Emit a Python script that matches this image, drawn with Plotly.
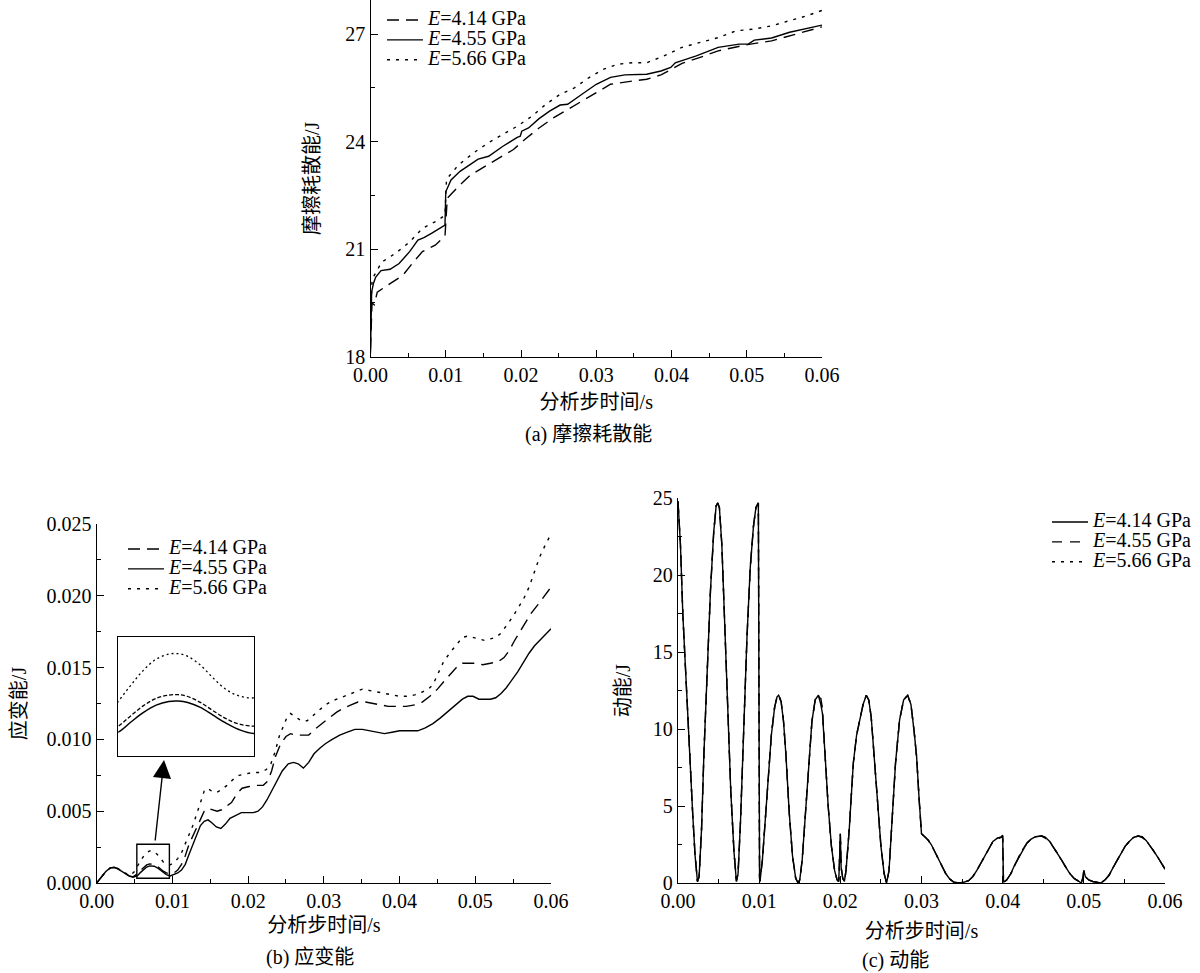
import plotly.graph_objects as go

W, H = 1200, 973
FONT = "Liberation Serif, Noto Sans CJK SC, serif"

# ---------------- (a) friction dissipation energy ----------------
fa_x_414 = [0.0, 0.0002, 0.0005, 0.0009, 0.0026, 0.0043, 0.0057, 0.0069, 0.0086, 0.0099, 0.0102,
            0.0117, 0.0133, 0.0152, 0.0171, 0.019, 0.0205, 0.0224, 0.0243, 0.0262, 0.0281, 0.03,
            0.0319, 0.0348, 0.0367, 0.0386, 0.04, 0.0414, 0.0438, 0.0462, 0.0486, 0.0505, 0.0533,
            0.0557, 0.058, 0.06]
fa_y_414 = [18.2, 19.5, 19.45, 19.8, 20.04, 20.27, 20.64, 20.93, 21.11, 21.37, 22.42,
            22.75, 23.07, 23.3, 23.54, 23.78, 24.06, 24.38, 24.66, 24.9, 25.13, 25.36,
            25.6, 25.69, 25.74, 25.86, 26.02, 26.18, 26.35, 26.53, 26.64, 26.72, 26.81,
            26.95, 27.1, 27.2]

fa_x_455 = [0.0, 0.00015, 0.0004, 0.0007, 0.0014, 0.0026, 0.0038, 0.0052, 0.0063, 0.0071, 0.0081,
            0.0094, 0.0099, 0.0100, 0.0107, 0.0119, 0.0133, 0.0143, 0.0157, 0.0176, 0.0195, 0.0199,
            0.0201, 0.021, 0.0224, 0.0238, 0.0252, 0.0262, 0.0281, 0.03, 0.0319, 0.0338, 0.0367,
            0.0386, 0.0399, 0.0405, 0.0433, 0.0462, 0.049, 0.0502, 0.051, 0.0533, 0.0557, 0.0581, 0.06]
fa_y_455 = [18.1, 19.8, 20.05, 20.22, 20.4, 20.44, 20.6, 20.93, 21.25, 21.32, 21.44,
            21.6, 21.67, 22.6, 22.93, 23.17, 23.38, 23.51, 23.59, 23.87, 24.12, 24.15,
            24.29, 24.38, 24.64, 24.85, 25.02, 25.04, 25.32, 25.6, 25.79, 25.86, 25.88,
            25.97, 26.07, 26.2, 26.39, 26.63, 26.72, 26.72, 26.83, 26.89, 27.05, 27.17, 27.25]

fa_x_566 = [0.0, 0.0002, 0.0005, 0.0015, 0.0033, 0.0052, 0.0069, 0.009, 0.0099, 0.0101, 0.0117,
            0.0138, 0.0157, 0.0176, 0.0195, 0.0214, 0.0233, 0.0252, 0.0271, 0.029, 0.031, 0.0329,
            0.0348, 0.0367, 0.039, 0.0414, 0.0438, 0.0462, 0.0486, 0.051, 0.0533, 0.0557, 0.058, 0.06]
fa_y_566 = [19.0, 20.1, 20.27, 20.64, 20.88, 21.2, 21.58, 21.81, 21.95, 22.95, 23.35,
            23.7, 23.97, 24.2, 24.43, 24.7, 25.04, 25.32, 25.5, 25.78, 26.02, 26.16,
            26.2, 26.2, 26.39, 26.63, 26.77, 26.9, 27.09, 27.14, 27.23, 27.37, 27.51, 27.66]

# ---------------- (b) strain energy ----------------
sb_x_414 = [0.0, 0.0006, 0.0012, 0.0018, 0.0023, 0.0028, 0.0033, 0.0038, 0.0043, 0.0048, 0.0054,
            0.0058, 0.0062, 0.0066, 0.0070, 0.0073, 0.0076, 0.0080, 0.0084, 0.0088, 0.0092, 0.0097,
            0.0102, 0.0107, 0.0112, 0.0117, 0.0122, 0.0127, 0.0132, 0.0137, 0.0142, 0.0147, 0.0153,
            0.0159, 0.0165, 0.0172, 0.0178, 0.0185, 0.0192, 0.0200, 0.0210, 0.0220, 0.0226, 0.0231,
            0.0236, 0.0243, 0.0250, 0.0256, 0.0262, 0.0270, 0.0280, 0.0288, 0.0297, 0.0307, 0.0317,
            0.0327, 0.0336, 0.0345, 0.0355, 0.0365, 0.0375, 0.0385, 0.0395, 0.0409, 0.0420, 0.0430,
            0.0440, 0.0450, 0.0458, 0.0466, 0.0475, 0.0483, 0.0490, 0.0500, 0.0510, 0.0520, 0.0530,
            0.0538, 0.0545, 0.0551, 0.0559, 0.0566, 0.0574, 0.0583, 0.0592, 0.0600]
sb_y_414 = [0.0, 0.0004, 0.0008, 0.00105, 0.0011, 0.001, 0.00085, 0.00066, 0.0005, 0.00043, 0.00065,
            0.00088, 0.0011, 0.00126, 0.00133, 0.00134, 0.0013, 0.00117, 0.00099, 0.00082, 0.0007, 0.00065,
            0.0007, 0.0009, 0.0013, 0.0019, 0.0027, 0.0033, 0.0039, 0.0045, 0.0050, 0.0052, 0.0051,
            0.0050, 0.0051, 0.0054, 0.0056, 0.0062, 0.0066, 0.0067, 0.0068, 0.0068, 0.0071, 0.0078,
            0.0088, 0.0097, 0.0102, 0.0104, 0.0103, 0.0103, 0.0103, 0.0107, 0.0111, 0.0115, 0.0119,
            0.0122, 0.0124, 0.0126, 0.0126, 0.0125, 0.0124, 0.0123, 0.0123, 0.0123, 0.0124, 0.0126,
            0.0130, 0.0135, 0.0140, 0.0145, 0.0150, 0.0153, 0.0153, 0.0153, 0.0152, 0.0153, 0.0154,
            0.0157, 0.0162, 0.0168, 0.0175, 0.0182, 0.0188, 0.0194, 0.0200, 0.0206]

sb_x_455 = [0.0, 0.0006, 0.0012, 0.0018, 0.0023, 0.0028, 0.0033, 0.0038, 0.0043, 0.0048, 0.0054,
            0.0058, 0.0062, 0.0066, 0.0070, 0.0073, 0.0076, 0.0080, 0.0084, 0.0088, 0.0092, 0.0097,
            0.0102, 0.0107, 0.0112, 0.0117, 0.0122, 0.0127, 0.0132, 0.0137, 0.0142, 0.0147, 0.0152,
            0.0158, 0.0164, 0.0170, 0.0176, 0.0183, 0.0191, 0.0199, 0.0207, 0.0213, 0.0219, 0.0225,
            0.0231, 0.0238, 0.0245, 0.0253, 0.0260, 0.0266, 0.0273, 0.0280, 0.0287, 0.0295, 0.0302,
            0.0311, 0.0321, 0.0331, 0.0341, 0.0351, 0.0361, 0.0371, 0.0380, 0.0390, 0.0400, 0.0412,
            0.0424, 0.0434, 0.0444, 0.0454, 0.0463, 0.0473, 0.0483, 0.0490, 0.0497, 0.0505, 0.0512,
            0.0520, 0.0527, 0.0534, 0.0541, 0.0548, 0.0556, 0.0564, 0.0571, 0.0578, 0.0585, 0.0592, 0.0600]
sb_y_455 = [0.0, 0.0004, 0.0008, 0.00105, 0.00108, 0.00098, 0.00082, 0.00064, 0.00048, 0.0004, 0.00052,
            0.00074, 0.00095, 0.00111, 0.00119, 0.0012, 0.00117, 0.00106, 0.00089, 0.00072, 0.00058, 0.00049,
            0.0006, 0.0007, 0.0009, 0.0013, 0.0020, 0.0027, 0.0034, 0.0040, 0.0043, 0.0044, 0.0042,
            0.0039, 0.0038, 0.0041, 0.0045, 0.0047, 0.0049, 0.0049, 0.0049, 0.0050, 0.0053, 0.0058,
            0.0064, 0.0071, 0.0078, 0.0083, 0.0084, 0.0083, 0.0080, 0.0084, 0.0090, 0.0094, 0.0097,
            0.0100, 0.0103, 0.0105, 0.0107, 0.0107, 0.0106, 0.0105, 0.0104, 0.0105, 0.0106, 0.0106,
            0.0106, 0.0108, 0.0111, 0.0115, 0.0119, 0.0124, 0.0128, 0.0130, 0.0130, 0.0128, 0.0128,
            0.0128, 0.0129, 0.0132, 0.0136, 0.0141, 0.0147, 0.0154, 0.0160, 0.0165, 0.0169, 0.0173, 0.0177]

sb_x_566 = [0.0, 0.0006, 0.0012, 0.0018, 0.0023, 0.0028, 0.0033, 0.0038, 0.0045, 0.0050, 0.0054,
            0.0058, 0.0062, 0.0066, 0.0070, 0.0073, 0.0076, 0.0080, 0.0084, 0.0088, 0.0092, 0.0097,
            0.0102, 0.0107, 0.0112, 0.0117, 0.0122, 0.0127, 0.0132, 0.0137, 0.0142, 0.0146, 0.0152,
            0.0158, 0.0165, 0.0172, 0.0180, 0.0188, 0.0196, 0.0206, 0.0216, 0.0224, 0.0230, 0.0236,
            0.0241, 0.0246, 0.0251, 0.0256, 0.0262, 0.0270, 0.0278, 0.0285, 0.0293, 0.0302, 0.0312,
            0.0322, 0.0331, 0.0341, 0.0351, 0.0361, 0.0370, 0.0380, 0.0390, 0.0400, 0.0409, 0.0420,
            0.0430, 0.0438, 0.0444, 0.0451, 0.0458, 0.0466, 0.0475, 0.0483, 0.0490, 0.0497, 0.0505,
            0.0512, 0.0520, 0.0527, 0.0534, 0.0541, 0.0549, 0.0556, 0.0564, 0.0571, 0.0578, 0.0585,
            0.0593, 0.0600]
sb_y_566 = [0.0, 0.0004, 0.0008, 0.00105, 0.0011, 0.001, 0.00085, 0.00068, 0.00055, 0.0008, 0.00119,
            0.00155, 0.00188, 0.00212, 0.00223, 0.00224, 0.00218, 0.00199, 0.00171, 0.00146, 0.00132, 0.00127,
            0.0014, 0.0017, 0.0021, 0.0027, 0.0033, 0.0040, 0.0048, 0.0056, 0.0064, 0.0066, 0.0064,
            0.0063, 0.0065, 0.0068, 0.0072, 0.0075, 0.0076, 0.0077, 0.0077, 0.0079, 0.0083, 0.0092,
            0.0102, 0.0109, 0.0115, 0.0118, 0.0116, 0.0113, 0.0113, 0.0116, 0.0120, 0.0124, 0.0127,
            0.0129, 0.0131, 0.0133, 0.0135, 0.0134, 0.0133, 0.0132, 0.0131, 0.0130, 0.0130, 0.0131,
            0.0133, 0.0135, 0.0138, 0.0146, 0.0154, 0.0160, 0.0166, 0.0171, 0.0172, 0.0171, 0.0170,
            0.0169, 0.0170, 0.0171, 0.0174, 0.0179, 0.0185, 0.0191, 0.0198, 0.0206, 0.0216, 0.0227,
            0.0236, 0.0243]

# ---------------- (c) kinetic energy ----------------
ke_x = [0.0, 0.0003, 0.0006, 0.0010, 0.0014, 0.0018, 0.0021, 0.0024, 0.0026, 0.0029, 0.0032,
        0.0036, 0.0040, 0.0044, 0.0047, 0.0049, 0.0051, 0.0054, 0.0057, 0.0061, 0.0065, 0.0069,
        0.0072, 0.0074, 0.0077, 0.0081, 0.0085, 0.0089, 0.0093, 0.0096, 0.0099, 0.01005, 0.0101,
        0.0104, 0.0107, 0.0111, 0.0115, 0.0119, 0.0122, 0.0124, 0.0127, 0.0130, 0.0133, 0.0137,
        0.0141, 0.0145, 0.0148, 0.0150, 0.0153, 0.0157, 0.0161, 0.0165, 0.0169, 0.0173, 0.0176,
        0.0178, 0.0181, 0.0185, 0.0189, 0.0193, 0.0196, 0.0198, 0.0199, 0.0200, 0.0201, 0.0203,
        0.0205, 0.0207, 0.0211, 0.0216, 0.0220, 0.0224, 0.0228, 0.0232, 0.0235, 0.0238, 0.0242,
        0.0246, 0.0250, 0.0254, 0.0257, 0.0260, 0.0264, 0.0268, 0.0273, 0.0278, 0.0283, 0.0287,
        0.0291, 0.0294, 0.0297, 0.0299, 0.0300, 0.0304, 0.0308, 0.0312, 0.0316, 0.0320, 0.0325,
        0.0330, 0.0335, 0.0340, 0.0346, 0.0352, 0.0358, 0.0363, 0.0368, 0.0373, 0.0378, 0.0383,
        0.0388, 0.0393, 0.0398, 0.0400, 0.0401, 0.0405, 0.0410, 0.0415, 0.0420, 0.0425, 0.0430,
        0.0435, 0.0440, 0.0448, 0.0453, 0.0458, 0.0463, 0.0468, 0.0473, 0.0478, 0.0483, 0.0488,
        0.0493, 0.0497, 0.0499, 0.0500, 0.0502, 0.0506, 0.0511, 0.0516, 0.0521, 0.0526, 0.0531,
        0.0536, 0.0541, 0.0546, 0.0551, 0.0556, 0.0561, 0.0567, 0.0572, 0.0577, 0.0582, 0.0587,
        0.0592, 0.0596, 0.0600]
ke_414 = [24.8, 22.0, 17.4, 12.8, 8.9, 4.6, 1.8, 0.1, 0.4, 3.5, 8.5,
          14.0, 19.0, 22.8, 24.5, 24.7, 24.4, 22.0, 17.5, 11.5, 6.0, 2.0,
          0.1, 0.6, 4.0, 10.0, 16.0, 20.5, 23.2, 24.4, 24.7, 0.3, 0.1,
          1.5, 3.8, 6.8, 9.6, 11.4, 12.1, 12.2, 11.8, 10.5, 8.3, 4.6,
          1.8, 0.3, 0.0, 0.2, 1.5, 4.5, 7.8, 10.5, 11.9, 12.2, 11.6,
          11.0, 8.5, 5.0, 2.4, 0.8, 0.2, 0.1, 1.5, 3.2, 1.0, 0.3,
          0.1, 0.8, 3.5, 7.8, 9.6, 10.5, 11.6, 12.2, 11.9, 10.8, 8.2,
          5.0, 2.4, 0.6, 0.0, 0.8, 4.6, 7.8, 10.6, 11.9, 12.2, 11.6,
          9.8, 8.2, 5.5, 3.6, 3.2, 3.0, 2.8, 2.5, 2.1, 1.6, 1.1,
          0.6, 0.25, 0.05, 0.0, 0.05, 0.15, 0.4, 0.8, 1.3, 1.8, 2.3,
          2.7, 2.9, 3.0, 3.1, 0.05, 0.2, 0.6, 1.2, 1.7, 2.2, 2.6,
          2.85, 3.0, 3.07, 2.95, 2.7, 2.3, 1.9, 1.45, 1.0, 0.6, 0.3,
          0.1, 0.0, 0.4, 0.8, 0.4, 0.2, 0.1, 0.05, 0.0, 0.2, 0.5,
          1.0, 1.5, 2.0, 2.4, 2.7, 2.95, 3.07, 3.0, 2.75, 2.4, 2.0,
          1.6, 1.25, 0.9]
ke_455 = [24.8, 22.0, 17.4, 12.8, 8.9, 4.6, 1.8, 0.1, 0.4, 3.5, 8.5,
          14.0, 19.0, 22.8, 24.5, 24.7, 24.4, 22.0, 17.5, 11.5, 6.0, 2.0,
          0.1, 0.6, 4.0, 10.0, 16.0, 20.5, 23.2, 24.4, 24.7, 0.3, 0.1,
          1.5, 3.8, 6.8, 9.6, 11.4, 12.1, 12.2, 11.8, 10.5, 8.3, 4.6,
          1.8, 0.3, 0.0, 0.2, 1.5, 4.5, 7.8, 10.5, 11.9, 12.1, 12.0,
          11.3, 8.5, 5.0, 2.4, 0.8, 0.2, 0.1, 1.5, 3.2, 1.0, 0.3,
          0.1, 0.8, 3.5, 7.8, 9.6, 10.5, 11.6, 12.2, 11.9, 10.8, 8.2,
          5.0, 2.4, 0.6, 0.0, 0.8, 4.6, 7.8, 10.6, 11.9, 12.2, 11.6,
          9.8, 8.2, 5.5, 3.6, 3.2, 3.0, 2.8, 2.5, 2.1, 1.6, 1.1,
          0.6, 0.25, 0.05, 0.0, 0.05, 0.15, 0.4, 0.8, 1.3, 1.8, 2.3,
          2.7, 2.85, 2.95, 3.0, 0.05, 0.2, 0.6, 1.2, 1.7, 2.2, 2.6,
          2.85, 3.0, 3.05, 2.9, 2.65, 2.3, 1.9, 1.45, 1.0, 0.6, 0.3,
          0.1, 0.0, 0.4, 0.8, 0.4, 0.2, 0.1, 0.05, 0.0, 0.2, 0.5,
          1.0, 1.5, 2.0, 2.4, 2.7, 2.95, 3.05, 2.95, 2.75, 2.4, 2.0,
          1.6, 1.25, 0.9]
ke_566 = [24.8, 22.0, 17.4, 12.8, 8.9, 4.6, 1.8, 0.1, 0.4, 3.5, 8.5,
          14.0, 19.0, 22.8, 24.5, 24.7, 24.4, 22.0, 17.5, 11.5, 6.0, 2.0,
          0.1, 0.6, 4.0, 10.0, 16.0, 20.5, 23.2, 24.4, 24.7, 0.3, 0.1,
          1.5, 3.8, 6.8, 9.6, 11.4, 12.1, 12.2, 11.8, 10.5, 8.3, 4.6,
          1.8, 0.3, 0.0, 0.2, 1.5, 4.5, 7.8, 10.5, 11.9, 12.2, 11.8,
          11.1, 8.5, 5.0, 2.4, 0.8, 0.2, 0.1, 1.5, 3.2, 1.0, 0.3,
          0.1, 0.8, 3.5, 7.8, 9.6, 10.5, 11.6, 12.2, 11.9, 10.8, 8.2,
          5.0, 2.4, 0.6, 0.0, 0.8, 4.6, 7.8, 10.6, 11.9, 12.2, 11.6,
          9.8, 8.2, 5.5, 3.6, 3.2, 3.0, 2.8, 2.5, 2.1, 1.6, 1.1,
          0.6, 0.25, 0.05, 0.0, 0.05, 0.15, 0.4, 0.8, 1.3, 1.8, 2.3,
          2.7, 2.9, 3.0, 3.05, 0.05, 0.2, 0.6, 1.2, 1.7, 2.2, 2.6,
          2.85, 3.0, 3.07, 2.95, 2.7, 2.3, 1.9, 1.45, 1.0, 0.6, 0.3,
          0.1, 0.0, 0.4, 0.8, 0.4, 0.2, 0.1, 0.05, 0.0, 0.2, 0.5,
          1.0, 1.5, 2.0, 2.4, 2.7, 2.95, 3.07, 3.0, 2.75, 2.4, 2.0,
          1.6, 1.25, 0.9]

series_names = ["4.14", "4.55", "5.66"]
x_ticks = [0.0, 0.01, 0.02, 0.03, 0.04, 0.05, 0.06]


def px_x(p):
    return p / W


def px_y(p):
    return 1 - p / H


def lname(v):
    return '<span style="font-size:20px"><i>E</i>=' + v + ' GPa</span>'


fig = go.Figure()

# (a)
fig.add_trace(go.Scatter(x=fa_x_414, y=fa_y_414, mode="lines", name=lname(series_names[0]),
                         line=dict(color="black", width=1.4, dash="12px,7px"),
                         xaxis="x", yaxis="y", legend="legend"))
fig.add_trace(go.Scatter(x=fa_x_455, y=fa_y_455, mode="lines", name=lname(series_names[1]),
                         line=dict(color="black", width=1.4),
                         xaxis="x", yaxis="y", legend="legend"))
fig.add_trace(go.Scatter(x=fa_x_566, y=fa_y_566, mode="lines", name=lname(series_names[2]),
                         line=dict(color="black", width=1.4, dash="3px,6px"),
                         xaxis="x", yaxis="y", legend="legend"))

# (b)
fig.add_trace(go.Scatter(x=sb_x_414, y=sb_y_414, mode="lines", name=lname(series_names[0]),
                         line=dict(color="black", width=1.4, dash="12px,7px"),
                         xaxis="x2", yaxis="y2", legend="legend2"))
fig.add_trace(go.Scatter(x=sb_x_455, y=sb_y_455, mode="lines", name=lname(series_names[1]),
                         line=dict(color="black", width=1.4),
                         xaxis="x2", yaxis="y2", legend="legend2"))
fig.add_trace(go.Scatter(x=sb_x_566, y=sb_y_566, mode="lines", name=lname(series_names[2]),
                         line=dict(color="black", width=1.4, dash="3px,6px"),
                         xaxis="x2", yaxis="y2", legend="legend2"))

# (b) inset (same data, zoomed axes)
fig.add_trace(go.Scatter(x=sb_x_414, y=sb_y_414, mode="lines", showlegend=False, line_shape="spline",
                         line=dict(color="black", width=1.3, dash="4px,2px"), xaxis="x4", yaxis="y4"))
fig.add_trace(go.Scatter(x=sb_x_455, y=sb_y_455, mode="lines", showlegend=False, line_shape="spline",
                         line=dict(color="black", width=1.5), xaxis="x4", yaxis="y4"))
fig.add_trace(go.Scatter(x=sb_x_566, y=sb_y_566, mode="lines", showlegend=False, line_shape="spline",
                         line=dict(color="black", width=1.3, dash="2px,3px"), xaxis="x4", yaxis="y4"))

# (c)
fig.add_trace(go.Scatter(x=ke_x, y=ke_566, mode="lines", name=lname(series_names[2]),
                         line=dict(color="black", width=1.4, dash="3px,6px"),
                         xaxis="x3", yaxis="y3", legend="legend3"))
fig.add_trace(go.Scatter(x=ke_x, y=ke_455, mode="lines", name=lname(series_names[1]),
                         line=dict(color="black", width=1.4, dash="10px,8px"),
                         xaxis="x3", yaxis="y3", legend="legend3"))
fig.add_trace(go.Scatter(x=ke_x, y=ke_414, mode="lines", name=lname(series_names[0]),
                         line=dict(color="black", width=1.4),
                         xaxis="x3", yaxis="y3", legend="legend3"))

tickfont = dict(family=FONT, size=20, color="black")
titlefont = dict(family=FONT, size=20, color="black")


def xax(dom, anchor, standoff):
    return dict(domain=dom, anchor=anchor, range=[0, 0.06], tickmode="array", tickvals=x_ticks,
                tickformat=".2f", showline=True, linecolor="black", linewidth=1.4,
                ticks="inside", ticklen=7, tickwidth=1.3, tickcolor="black",
                minor=dict(ticks="inside", ticklen=4, tickwidth=1.3, tickcolor="black",
                           dtick=0.005, tick0=0, showgrid=False),
                showgrid=False, zeroline=False, tickfont=tickfont, automargin=False,
                title=dict(text="分析步时间/s", font=titlefont, standoff=standoff))


def yax(dom, anchor, rng, dtick, minor, fmt, title, standoff):
    return dict(domain=dom, anchor=anchor, range=rng, dtick=dtick, tick0=rng[0], tickformat=fmt,
                showline=True, linecolor="black", linewidth=1.4,
                ticks="inside", ticklen=7, tickwidth=1.3, tickcolor="black",
                minor=dict(ticks="inside", ticklen=4, tickwidth=1.3, tickcolor="black",
                           dtick=minor, tick0=rng[0], showgrid=False),
                showgrid=False, zeroline=False, tickfont=tickfont, automargin=False,
                title=dict(text=title, font=titlefont, standoff=standoff))


leg_common = dict(xanchor="left", yanchor="top", bgcolor="rgba(0,0,0,0)", borderwidth=0,
                  font=dict(family=FONT, size=13, color="black"), itemwidth=36, tracegroupgap=0)

fig.update_layout(
    width=W, height=H, margin=dict(l=0, r=0, t=0, b=0),
    paper_bgcolor="white", plot_bgcolor="white",
    font=dict(family=FONT, size=20, color="black"),
    xaxis=xax([px_x(370.5), px_x(822)], "y", 10),
    yaxis=yax([px_y(356.7), 1.0], "x", [18, 27.95], 3, 1.5, "d", "摩擦耗散能/J", 20),
    xaxis2=xax([px_x(96.7), px_x(551)], "y2", 6),
    yaxis2=yax([px_y(883), px_y(524)], "x2", [0, 0.025], 0.005, 0.0025, ".3f", "应变能/J", 14),
    xaxis3=xax([px_x(678), px_x(1165)], "y3", 12),
    yaxis3=yax([px_y(883), px_y(498.3)], "x3", [0, 25], 5, 2.5, "d", "动能/J", 16),
    xaxis4=dict(domain=[px_x(118.3), px_x(254)], anchor="y4", range=[0.0054, 0.0097],
                showline=True, mirror=True, linecolor="black", linewidth=1.4, ticks="",
                showticklabels=False, showgrid=False, zeroline=False),
    yaxis4=dict(domain=[px_y(755.7), px_y(637.3)], anchor="x4", range=[0.0, 0.0026],
                showline=True, mirror=True, linecolor="black", linewidth=1.4, ticks="",
                showticklabels=False, showgrid=False, zeroline=False),
    legend=dict(x=px_x(382), y=px_y(5), traceorder="normal", **leg_common),
    legend2=dict(x=px_x(123), y=px_y(534), traceorder="normal", **leg_common),
    legend3=dict(x=px_x(1047), y=px_y(507), traceorder="reversed", **leg_common),
    showlegend=True,
)

# small box marking the zoomed region in (b)
fig.add_shape(type="rect", xref="x2", yref="y2", x0=0.0053, x1=0.0096, y0=0.00033, y1=0.0027,
              line=dict(color="black", width=1.4), fillcolor="rgba(0,0,0,0)")

# arrow from the small box to the inset (tail offset in pixels)
fig.add_annotation(xref="paper", yref="paper", axref="pixel", ayref="pixel",
                   x=px_x(164), y=px_y(760), ax=-9, ay=82, text="",
                   showarrow=True, arrowhead=2, arrowsize=2.6, arrowwidth=1.4, arrowcolor="black")

# panel captions
captions = [("(a) 摩擦耗散能", 588, 435), ("(b) 应变能", 310, 957), ("(c) 动能", 895, 960)]
for txt, cx, cy in captions:
    fig.add_annotation(xref="paper", yref="paper", x=px_x(cx), y=px_y(cy), text=txt,
                       showarrow=False, xanchor="center", yanchor="middle",
                       font=dict(family=FONT, size=20, color="black"))

fig.write_html("out.html", config={"displayModeBar": False},
               post_script="document.body.style.margin='0';")
